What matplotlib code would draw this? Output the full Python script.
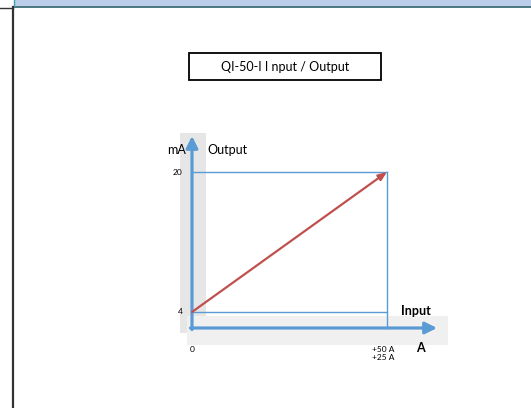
import matplotlib.pyplot as plt
import matplotlib.patches as mpatches

plt.rcParams['font.family'] = ['Lato', 'DejaVu Sans']

# transfer characteristic: input current (A) -> output (mA)
input_a = [0, 50]
output_ma = [4, 20]
y_ticks = [20, 4]
x_tick_labels = ["0", "+50 A\n+25 A"]

W, H = 531, 408
fig = plt.figure(figsize=(W / 100, H / 100), dpi=100)

# -----------------------------
# PAGE DECORATION (pixel coords)
# -----------------------------
bg = fig.add_axes([0, 0, 1, 1])
bg.set_xlim(0, W)
bg.set_ylim(H, 0)
bg.axis("off")

bg.add_patch(mpatches.Rectangle((14, 0), W - 14, 6, color="#bccde9", lw=0))
bg.plot([14, W], [6.5, 6.5], color="#2c5f6b", lw=1.2)
bg.plot([14, 14], [0, 6], color="#3aa3b0", lw=1)
bg.plot([0, 13], [7.5, 7.5], color="#333333", lw=1)
bg.plot([13, 13], [7, H], color="#333333", lw=1.6)

# title box
bg.add_patch(mpatches.Rectangle((189, 53), 192, 27, fill=False, ec="black", lw=1.3))
bg.text(285, 67, "QI-50-I I nput / Output", ha="center", va="center", fontsize=9)

# shaded bands behind the axes
bg.add_patch(mpatches.Rectangle((180, 133), 26, 200, color="#e6e6e6", lw=0))
bg.add_patch(mpatches.Rectangle((187, 316), 261, 29, color="#f0f0f0", lw=0))

# -----------------------------
# DATA AXES
# -----------------------------
# pixel mapping: x=0 -> 192px, x=50 -> 387px ; y=4 -> 312px, y=20 -> 172px
sx = (387 - 192) / 50
sy = (312 - 172) / 16
ax = fig.add_axes([0, 0, 1, 1])
ax.patch.set_alpha(0)
ax.set_xlim(-192 / sx, (W - 192) / sx)
ax.set_ylim(4 - (H - 312) / sy, 4 + 312 / sy)
ax.axis("off")

blue = "#5b9bd5"
x0 = input_a[0]
x1 = input_a[1]
y_base = 4 - 16 / sy
y_top = 20 + 36 / sy
x_end = 50 + 50 / sx

# guide lines
ax.plot([x0, x1], [output_ma[1], output_ma[1]], color=blue, lw=1)
ax.plot([x0, x1], [output_ma[0], output_ma[0]], color=blue, lw=1)
ax.plot([x1, x1], [y_base, output_ma[1]], color=blue, lw=1)

# axes arrows
arrow = "-|>,head_length=0.7,head_width=0.35"
ax.annotate("", xy=(x0, y_top), xytext=(x0, y_base - 0.18),
            arrowprops=dict(arrowstyle=arrow, color=blue, lw=2.3,
                            shrinkA=0, shrinkB=0))
ax.annotate("", xy=(x_end, y_base), xytext=(x0 - 0.4, y_base),
            arrowprops=dict(arrowstyle=arrow, color=blue, lw=2.3,
                            shrinkA=0, shrinkB=0))

# characteristic
ax.annotate("", xy=(input_a[1], output_ma[1]), xytext=(input_a[0], output_ma[0]),
            arrowprops=dict(arrowstyle="-|>,head_length=0.5,head_width=0.2", color="#c0504d", lw=1.6,
                            shrinkA=0, shrinkB=0))

# labels
ax.text(x0 - 1.5, y_top - 1.6, "mA", ha="right", va="center", fontsize=9)
ax.text(x0 + 4, y_top - 1.6, "Output", ha="left", va="center", fontsize=9)
for v in y_ticks:
    ax.text(x0 - 2.5, v, str(v), ha="right", va="center", fontsize=6)
ax.text(x0, y_base - 2.5, x_tick_labels[0], ha="center", va="center", fontsize=6)
ax.text(x1 + 1.8, y_base - 2.0, x_tick_labels[1], ha="right", va="top", fontsize=6,
        linespacing=1.3)
ax.text(x1 + 3.5, output_ma[0] + 0.1, "Input", ha="left", va="center", fontsize=9, fontweight="bold")
ax.text(x1 + 7.5, y_base - 2.3, "A", ha="left", va="center", fontsize=9, fontweight="bold")

fig.savefig("out.png", dpi=100)
